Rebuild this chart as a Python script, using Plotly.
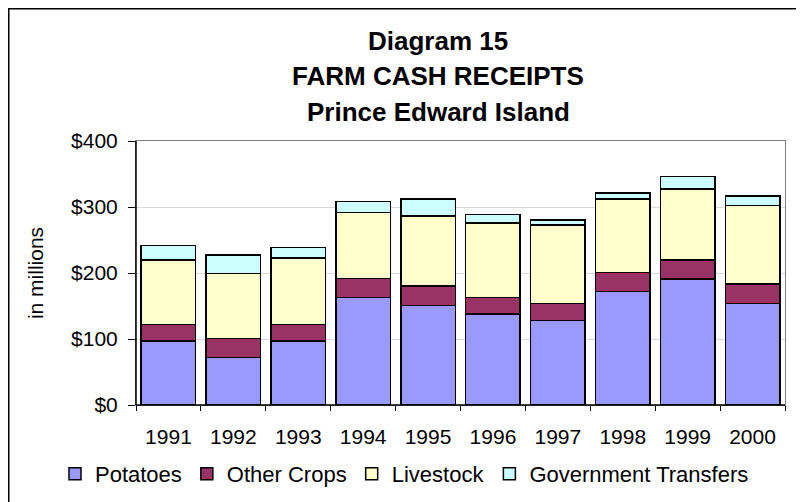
import plotly.graph_objects as go

years = ["1991", "1992", "1993", "1994", "1995", "1996", "1997", "1998", "1999", "2000"]
potatoes = [97, 72, 97, 163, 151, 138, 128, 172, 191, 154]
other_crops = [25, 29, 25, 29, 29, 25, 26, 29, 29, 29]
livestock = [98, 98, 101, 100, 106, 113, 119, 111, 107, 119]
gov_transfers = [22, 28, 16, 16, 26, 13, 7, 9, 19, 15]

series = [
    ("Potatoes", potatoes, "#9999FF"),
    ("Other Crops", other_crops, "#993366"),
    ("Livestock", livestock, "#FFFFCC"),
    ("Government Transfers", gov_transfers, "#CCFFFF"),
]

FONT = "Liberation Sans, Arial, sans-serif"

fig = go.Figure()
for name, vals, col in series:
    fig.add_trace(go.Bar(
        x=years, y=vals, name=name,
        marker=dict(color=col, line=dict(color="black", width=1.5)),
    ))

OFF = 8  # page body margin
W, H = 796, 494
L, R, T, B = 128, 19, 133, 97
pw, ph = W - L - R, H - T - B

def px(sx):
    return (sx - OFF - L) / pw

def py(sy):
    return (H - B - (sy - OFF)) / ph

fig.update_layout(
    width=W, height=H,
    margin=dict(l=L, r=R, t=T, b=B, autoexpand=False),
    barmode="stack", bargap=0.16,
    paper_bgcolor="white", plot_bgcolor="white",
    font=dict(family=FONT, size=21, color="black"),
    showlegend=True,
    legend=dict(orientation="h", x=px(55), xanchor="left", y=py(474), yanchor="middle",
                font=dict(size=22), itemwidth=30, traceorder="normal",
                itemclick=False, bgcolor="rgba(0,0,0,0)", borderwidth=0),
    xaxis=dict(showline=True, linecolor="#808080", linewidth=1, mirror=True,
               ticks="outside", tickson="boundaries", ticklen=5, tickcolor="black",
               tickfont=dict(size=21), showgrid=False, ticklabelstandoff=13),
    yaxis=dict(range=[0, 400], dtick=100, tickprefix="$", showline=True,
               linecolor="#808080", linewidth=1, mirror=True,
               ticks="outside", ticklen=7, tickcolor="black",
               showgrid=True, gridcolor="#D9D9D9", gridwidth=1,
               tickfont=dict(size=21), ticklabelstandoff=6,
               title=dict(text="in millions", font=dict(size=21), standoff=21)),
    shapes=[
        dict(type="line", xref="paper", yref="paper", x0=px(7), x1=px(820), y0=py(8.75), y1=py(8.75),
             line=dict(color="black", width=1.5)),
        dict(type="line", xref="paper", yref="paper", x0=px(8.75), x1=px(8.75), y0=py(8), y1=py(520),
             line=dict(color="black", width=1.5)),
        dict(type="line", xref="paper", yref="paper", x0=0, x1=0, y0=0, y1=1,
             line=dict(color="black", width=1.5)),
        dict(type="line", xref="paper", yref="paper", x0=0, x1=1, y0=0, y1=0,
             line=dict(color="black", width=1.5)),
    ],
    annotations=[
        dict(text="<b>Diagram 15</b>", xref="paper", yref="paper", x=px(438), y=py(41),
             xanchor="center", yanchor="middle", showarrow=False, font=dict(size=26)),
        dict(text="<b>FARM CASH RECEIPTS</b>", xref="paper", yref="paper", x=px(438), y=py(76),
             xanchor="center", yanchor="middle", showarrow=False, font=dict(size=26)),
        dict(text="<b>Prince Edward Island</b>", xref="paper", yref="paper", x=px(438), y=py(112),
             xanchor="center", yanchor="middle", showarrow=False, font=dict(size=26)),
    ],
)

fig.write_html("out.html")
